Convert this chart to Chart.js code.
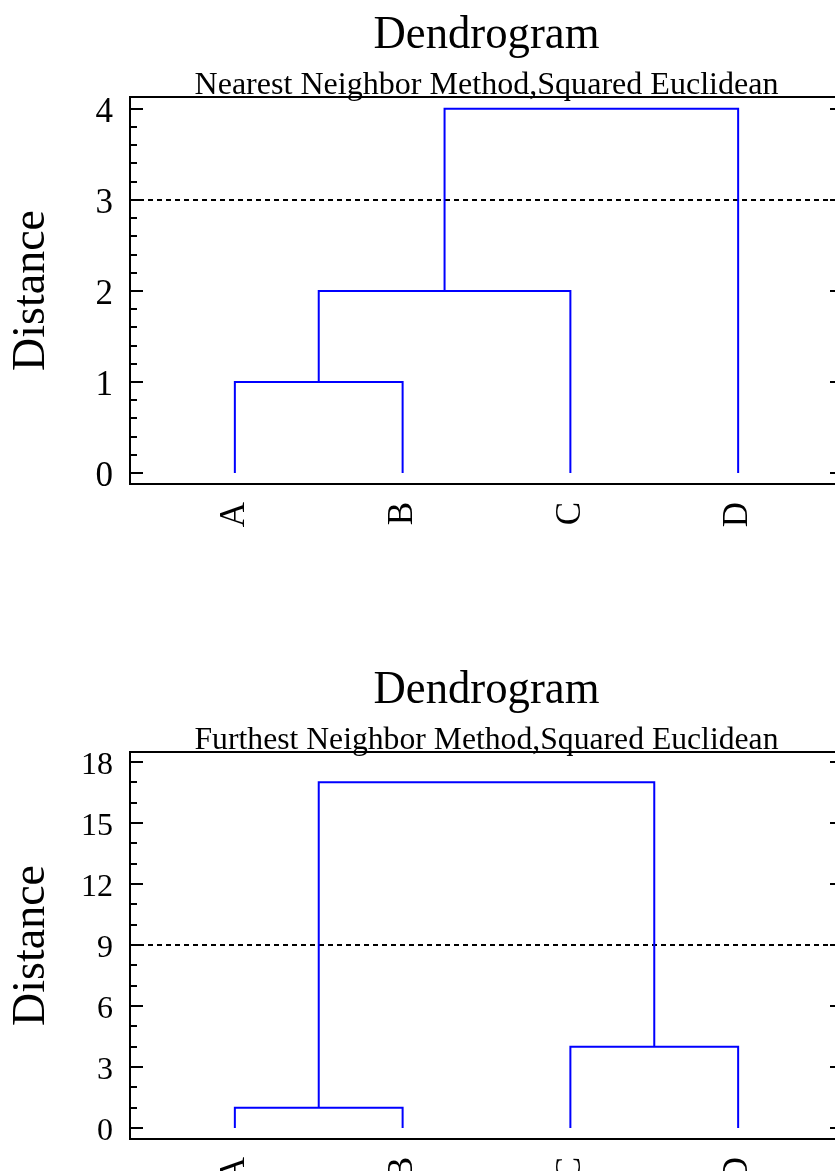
<!DOCTYPE html>
<html>
<head>
<meta charset="utf-8">
<script src="https://cdn.jsdelivr.net/npm/chart.js@4/dist/chart.umd.min.js"></script>
<style>
  html, body { margin: 0; padding: 0; background: #fff; overflow: hidden; width: 835px; height: 1171px; }
  canvas { display: block; }
</style>
</head>
<body>
<canvas id="nearest" width="860" height="655"></canvas>
<canvas id="furthest" width="860" height="655"></canvas>
<script>
// leaves of the tree and where they sit on the x scale
const leaves = ['A', 'B', 'C', 'D'];
const leafPos = [1, 2, 3, 4];

// merges: [left cluster, right cluster, distance]
// clusters 0..3 are the leaves, 4.. are the merges in order
const nearestMerges = [[0, 1, 1], [4, 2, 2], [5, 3, 4]];
const furthestMerges = [[0, 1, 1], [2, 3, 4], [4, 5, 17]];

// y tick labels and the dotted cut level
const nearestTicks = [0, 1, 2, 3, 4];
const furthestTicks = [0, 3, 6, 9, 12, 15, 18];
const nearestCut = 3;
const furthestCut = 9;

const nearestRange = [-0.12, 4.13];
const furthestRange = [-0.54, 18.49];
const xRange = [0.375, 4.625];

const SERIF = '"Liberation Serif", "Times New Roman", serif';

// turn the merge list into one polyline per merge
function dendroSets(merges) {
    const xs = leafPos.slice();
    const hs = leafPos.map(() => 0);
    return merges.map(([a, b, h]) => {
        const pts = [
            { x: xs[a], y: hs[a] },
            { x: xs[a], y: h },
            { x: xs[b], y: h },
            { x: xs[b], y: hs[b] }
        ];
        xs.push((xs[a] + xs[b]) / 2);
        hs.push(h);
        return {
            data: pts,
            borderColor: '#0000ff',
            borderWidth: 2,
            pointRadius: 0,
            tension: 0,
            fill: false,
            order: 0
        };
    });
}

// plot frame + inward ticks on both sides (major and minor)
const framePlugin = {
    id: 'frame',
    afterDatasetsDraw(chart, args, opts) {
        const { ctx, chartArea: a, scales: { y } } = chart;
        const ticks = opts.ticks;
        ctx.save();
        ctx.strokeStyle = '#000';
        ctx.lineWidth = 2;
        ctx.strokeRect(a.left, a.top, a.right - a.left, a.bottom - a.top);
        ctx.beginPath();
        const mark = (v, len) => {
            const py = Math.round(y.getPixelForValue(v));
            ctx.moveTo(a.left, py); ctx.lineTo(a.left + len, py);
            ctx.moveTo(a.right, py); ctx.lineTo(a.right - len, py);
        };
        ticks.forEach((v, i) => {
            mark(v, 13);
            if (i < ticks.length - 1) {
                const step = (ticks[i + 1] - v) / (opts.minor + 1);
                for (let k = 1; k <= opts.minor; k++) mark(v + step * k, 7);
            }
        });
        ctx.stroke();
        ctx.restore();
    }
};

// title + subtitle, squeezed to the widths used in the original
const headingPlugin = {
    id: 'heading',
    afterDraw(chart, args, opts) {
        const { ctx, chartArea: a } = chart;
        const cx = (a.left + a.right) / 2;
        opts.lines.forEach(l => {
            ctx.save();
            ctx.font = `${l.size}px ${SERIF}`;
            ctx.fillStyle = '#000';
            ctx.textAlign = 'center';
            ctx.textBaseline = 'alphabetic';
            const w = ctx.measureText(l.text).width;
            ctx.translate(cx, l.baseline);
            ctx.scale(l.width / w, 1);
            ctx.fillText(l.text, 0, 0);
            ctx.restore();
        });
    }
};

function makeDendrogram(id, merges, tickVals, range, cut, minor, subtitle, tickSize) {
    const datasets = dendroSets(merges);
    datasets.push({
        data: [{ x: xRange[0], y: cut }, { x: xRange[1], y: cut }],
        borderColor: '#000',
        borderWidth: 2,
        borderDash: [5, 4],
        pointRadius: 0,
        fill: false,
        order: 1
    });

    return new Chart(document.getElementById(id), {
        type: 'line',
        data: { datasets },
        options: {
            responsive: false,
            animation: false,
            layout: { padding: { left: 0, top: 97, right: 17, bottom: 0 } },
            plugins: {
                legend: { display: false },
                tooltip: { enabled: false },
                frame: { ticks: tickVals, minor },
                heading: {
                    lines: [
                        { text: 'Dendrogram', size: 47, baseline: 48, width: 226 },
                        { text: subtitle, size: 32, baseline: 94, width: 584 }
                    ]
                }
            },
            scales: {
                x: {
                    type: 'linear',
                    min: xRange[0],
                    max: xRange[1],
                    afterBuildTicks: s => { s.ticks = leafPos.map(v => ({ value: v })); },
                    afterFit: s => { s.height = 171; },
                    grid: { display: false },
                    border: { display: false },
                    ticks: {
                        autoSkip: false,
                        minRotation: 90,
                        maxRotation: 90,
                        padding: 10,
                        color: '#000',
                        font: { family: SERIF, size: 35 },
                        callback: (v, i) => leaves[i]
                    }
                },
                y: {
                    type: 'linear',
                    min: range[0],
                    max: range[1],
                    afterBuildTicks: s => { s.ticks = tickVals.map(v => ({ value: v })); },
                    afterFit: s => { s.width = 130; },
                    grid: { display: false },
                    border: { display: false },
                    ticks: {
                        padding: 9,
                        labelOffset: 4,
                        color: '#000',
                        font: { family: SERIF, size: tickSize }
                    },
                    title: {
                        display: true,
                        text: 'Distance',
                        color: '#000',
                        font: { family: SERIF, size: 46 },
                        padding: { top: 4, bottom: 0 }
                    }
                }
            }
        },
        plugins: [framePlugin, headingPlugin]
    });
}

makeDendrogram('nearest', nearestMerges, nearestTicks, nearestRange, nearestCut, 4,
    'Nearest Neighbor Method,Squared Euclidean', 35);
makeDendrogram('furthest', furthestMerges, furthestTicks, furthestRange, furthestCut, 2,
    'Furthest Neighbor Method,Squared Euclidean', 32);
</script>
</body>
</html>
